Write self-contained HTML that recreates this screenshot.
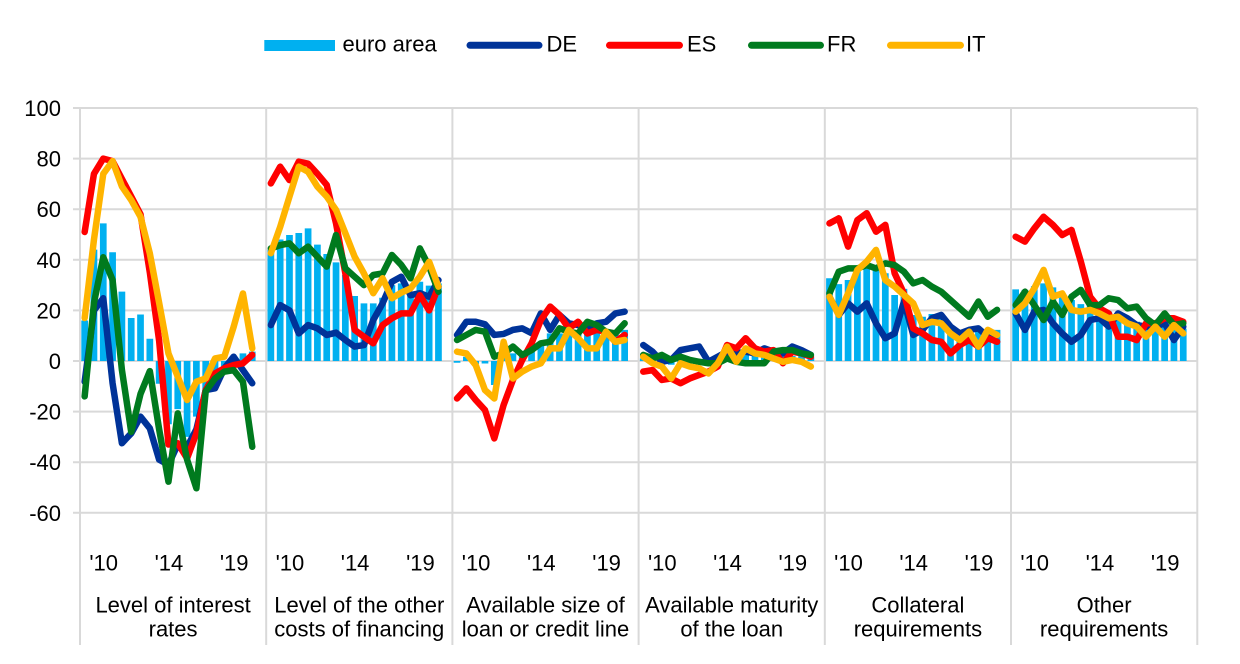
<!DOCTYPE html>
<html>
<head>
<meta charset="utf-8">
<style>
html,body{margin:0;padding:0;background:#fff;}
svg{display:block;}
text{font-family:"Liberation Sans",Arial,sans-serif;font-size:22px;fill:#000;}
.ln{fill:none;stroke-width:6.5;stroke-linejoin:round;stroke-linecap:round;vector-effect:non-scaling-stroke;}
.de{stroke:#003399;}
.es{stroke:#FF0000;}
.fr{stroke:#007A1E;}
.it{stroke:#FFB400;}
.ea{fill:#00B0F0;}
.grid{stroke:#D9D9D9;stroke-width:2;}
</style>
</head>
<body>
<svg width="1240" height="664" viewBox="0 0 1240 664" xmlns="http://www.w3.org/2000/svg">
<rect x="0" y="0" width="1240" height="664" fill="#fff"/>

<g class="grid">
<line x1="73" y1="108" x2="1197.3" y2="108"/>
<line x1="73" y1="158.6" x2="1197.3" y2="158.6"/>
<line x1="73" y1="209.2" x2="1197.3" y2="209.2"/>
<line x1="73" y1="259.8" x2="1197.3" y2="259.8"/>
<line x1="73" y1="310.4" x2="1197.3" y2="310.4"/>
<line x1="73" y1="361" x2="1197.3" y2="361"/>
<line x1="73" y1="411.6" x2="1197.3" y2="411.6"/>
<line x1="73" y1="462.2" x2="1197.3" y2="462.2"/>
<line x1="73" y1="512.8" x2="1197.3" y2="512.8"/>
<line x1="80" y1="108" x2="80" y2="645"/>
<line x1="266.2" y1="108" x2="266.2" y2="645"/>
<line x1="452.4" y1="108" x2="452.4" y2="645"/>
<line x1="638.6" y1="108" x2="638.6" y2="645"/>
<line x1="824.8" y1="108" x2="824.8" y2="645"/>
<line x1="1011" y1="108" x2="1011" y2="645"/>
<line x1="1197.3" y1="108" x2="1197.3" y2="645"/>
</g>

<g text-anchor="end">
<text x="61" y="116">100</text>
<text x="61" y="166.6">80</text>
<text x="61" y="217.2">60</text>
<text x="61" y="267.8">40</text>
<text x="61" y="318.4">20</text>
<text x="61" y="369">0</text>
<text x="61" y="419.6">-20</text>
<text x="61" y="470.2">-40</text>
<text x="61" y="520.8">-60</text>
</g>

<!-- Panel 1 -->
<g transform="translate(80,361) scale(9.311,-2.53)">
<path class="ea" d="M.14 0h.72v16h-.72z M1.14 0h.72v44h-.72z M2.14 0h.72v54.4h-.72z M3.14 0h.72v43h-.72z M4.14 0h.72v27.4h-.72z M5.14 0h.72v17h-.72z M6.14 0h.72v18.4h-.72z M7.14 0h.72v8.8h-.72z M8.14 0h.72v-9h-.72z M9.14 0h.72v-25h-.72z M10.14 0h.72v-19h-.72z M11.14 0h.72v-30h-.72z M12.14 0h.72v-22h-.72z M13.14 0h.72v-12h-.72z M14.14 0h.72v-8h-.72z M15.14 0h.72v-5h-.72z M16.14 0h.72v1.5h-.72z M17.14 0h.72v3h-.72z M18.14 0h.72v3.7h-.72z"/>
<polyline class="ln de" points="0.5,-8.2 1.5,20 2.5,24.8 3.5,-8.8 4.5,-32.5 5.5,-28.6 6.5,-22 7.5,-26.6 8.5,-39 9.5,-41 10.5,-33 11.5,-34 12.5,-27 13.5,-11.5 14.5,-10.8 15.5,-2.9 16.5,1.7 17.5,-3.6 18.5,-8.8"/>
<polyline class="ln es" points="0.5,51 1.5,74 2.5,80 3.5,79 4.5,72 5.5,65 6.5,58 7.5,35 8.5,8 9.5,-33 10.5,-32.5 11.5,-38.5 12.5,-28.6 13.5,-11.5 14.5,-4.9 15.5,-2.9 16.5,-1.6 17.5,-0.9 18.5,2.4"/>
<polyline class="ln fr" points="0.5,-14 1.5,23 2.5,41 3.5,32 4.5,-3.5 5.5,-28 6.5,-13 7.5,-4 8.5,-27 9.5,-47.7 10.5,-20.7 11.5,-39 12.5,-50.3 13.5,-12 14.5,-6.9 15.5,-4.2 16.5,-3.6 17.5,-8.2 18.5,-33.9"/>
<polyline class="ln it" points="0.5,17 1.5,48 2.5,74 3.5,79 4.5,69 5.5,63.6 6.5,57 7.5,42.5 8.5,23 9.5,3 10.5,-6.2 11.5,-15.4 12.5,-8.2 13.5,-6.9 14.5,1 15.5,1.7 16.5,13.5 17.5,26.7 18.5,5"/>
</g>

<!-- Panel 2 -->
<g transform="translate(266.2,361) scale(9.311,-2.53)">
<path class="ea" d="M.14 0h.72v44h-.72z M1.14 0h.72v48h-.72z M2.14 0h.72v49.8h-.72z M3.14 0h.72v50.6h-.72z M4.14 0h.72v52.4h-.72z M5.14 0h.72v46h-.72z M6.14 0h.72v42.3h-.72z M7.14 0h.72v39h-.72z M8.14 0h.72v34h-.72z M9.14 0h.72v25.7h-.72z M10.14 0h.72v22.8h-.72z M11.14 0h.72v22.8h-.72z M12.14 0h.72v25h-.72z M13.14 0h.72v30h-.72z M14.14 0h.72v30.7h-.72z M15.14 0h.72v27h-.72z M16.14 0h.72v31.3h-.72z M17.14 0h.72v29.8h-.72z M18.14 0h.72v30.7h-.72z"/>
<polyline class="ln de" points="0.5,14.2 1.5,22.1 2.5,20 3.5,10.9 4.5,14.2 5.5,12.9 6.5,10.3 7.5,11.2 8.5,8.3 9.5,5.7 10.5,6.3 11.5,16.2 12.5,22.8 13.5,31.3 14.5,33.3 15.5,26 16.5,26.8 17.5,25.4 18.5,32"/>
<polyline class="ln es" points="0.5,70.2 1.5,76.8 2.5,71.5 3.5,78.8 4.5,78 5.5,74 6.5,69.6 7.5,54.4 8.5,34.6 9.5,12.3 10.5,9.6 11.5,7 12.5,14.2 13.5,16.9 14.5,18.8 15.5,18.8 16.5,26 17.5,20 18.5,29.4"/>
<polyline class="ln fr" points="0.5,44.5 1.5,45.8 2.5,46.5 3.5,42.6 4.5,45.2 5.5,41.2 6.5,37.3 7.5,49.8 8.5,36.6 9.5,33.3 10.5,30 11.5,34 12.5,34.6 13.5,41.9 14.5,38 15.5,32.7 16.5,44.5 17.5,37.3 18.5,27.4"/>
<polyline class="ln it" points="0.5,42.6 1.5,53 2.5,65 3.5,76.8 4.5,74.8 5.5,68.9 6.5,65 7.5,59.7 8.5,50.5 9.5,41.2 10.5,34.6 11.5,26.8 12.5,32.7 13.5,24.8 14.5,27 15.5,28.7 16.5,33.3 17.5,39.2 18.5,29.4"/>
</g>

<!-- Panel 3 -->
<g transform="translate(452.4,361) scale(9.311,-2.53)">
<path class="ea" d="M.14 0h.72v-0.7h-.72z M1.14 0h.72v1.7h-.72z M2.14 0h.72v-1.2h-.72z M3.14 0h.72v-1h-.72z M4.14 0h.72v-9.5h-.72z M5.14 0h.72v2.4h-.72z M6.14 0h.72v3h-.72z M7.14 0h.72v2.4h-.72z M8.14 0h.72v5.7h-.72z M9.14 0h.72v7h-.72z M10.14 0h.72v10.9h-.72z M11.14 0h.72v10.9h-.72z M12.14 0h.72v13.6h-.72z M13.14 0h.72v10.9h-.72z M14.14 0h.72v10.9h-.72z M15.14 0h.72v11.6h-.72z M16.14 0h.72v9.6h-.72z M17.14 0h.72v11.6h-.72z M18.14 0h.72v12.3h-.72z"/>
<polyline class="ln de" points="0.5,10.3 1.5,15.5 2.5,15.5 3.5,14.5 4.5,10.3 5.5,10.7 6.5,12.3 7.5,12.9 8.5,11 9.5,18.8 10.5,12.3 11.5,18.2 12.5,14.9 13.5,14.2 14.5,12.3 15.5,14.9 16.5,15.5 17.5,18.8 18.5,19.5"/>
<polyline class="ln es" points="0.5,-14.8 1.5,-10.8 2.5,-15.4 3.5,-19.4 4.5,-30.6 5.5,-17.4 6.5,-7.5 7.5,0.4 8.5,7 9.5,16.2 10.5,21.5 11.5,18.2 12.5,12.9 13.5,15.5 14.5,10.9 15.5,12.3 16.5,11.6 17.5,7.6 18.5,10.3"/>
<polyline class="ln fr" points="0.5,8.3 1.5,10.3 2.5,12.3 3.5,11.6 4.5,1.7 5.5,3 6.5,5.7 7.5,2.4 8.5,4.3 9.5,7 10.5,7.6 11.5,12.9 12.5,11.6 13.5,10.9 14.5,15.5 15.5,14.2 16.5,11.6 17.5,10.9 18.5,14.9"/>
<polyline class="ln it" points="0.5,3.7 1.5,3 2.5,-1.6 3.5,-11.5 4.5,-14.8 5.5,7.6 6.5,-6.9 7.5,-4.2 8.5,-2.2 9.5,-0.9 10.5,5 11.5,5 12.5,12.3 13.5,9 14.5,5 15.5,5 16.5,11.6 17.5,7.6 18.5,8.3"/>
</g>

<!-- Panel 4 -->
<g transform="translate(638.6,361) scale(9.311,-2.53)">
<path class="ea" d="M.14 0h.72v1h-.72z M1.14 0h.72v1.5h-.72z M2.14 0h.72v-1h-.72z M3.14 0h.72v-1.5h-.72z M4.14 0h.72v-2h-.72z M5.14 0h.72v-1h-.72z M6.14 0h.72v0.5h-.72z M7.14 0h.72v1h-.72z M8.14 0h.72v1h-.72z M9.14 0h.72v2h-.72z M10.14 0h.72v2h-.72z M11.14 0h.72v3h-.72z M12.14 0h.72v2h-.72z M13.14 0h.72v2h-.72z M14.14 0h.72v2h-.72z M15.14 0h.72v2h-.72z M16.14 0h.72v2h-.72z M17.14 0h.72v2h-.72z M18.14 0h.72v1.5h-.72z"/>
<polyline class="ln de" points="0.5,6.3 1.5,3.7 2.5,-0.3 3.5,0.4 4.5,4.3 5.5,5 6.5,5.7 7.5,-0.3 8.5,1.7 9.5,3.7 10.5,3 11.5,3.7 12.5,3 13.5,5 14.5,3.7 15.5,3 16.5,5.7 17.5,4.3 18.5,2.4"/>
<polyline class="ln es" points="0.5,-4.2 1.5,-3.6 2.5,-7.5 3.5,-6.9 4.5,-8.8 5.5,-6.9 6.5,-5.5 7.5,-4.2 8.5,-2.2 9.5,6.3 10.5,5 11.5,9 12.5,5 13.5,3.7 14.5,4.3 15.5,-0.9 16.5,3.7 17.5,3 18.5,1.7"/>
<polyline class="ln fr" points="0.5,2.4 1.5,1 2.5,2.4 3.5,0.4 4.5,1.7 5.5,0.4 6.5,-0.3 7.5,-0.9 8.5,-0.9 9.5,1 10.5,-0.3 11.5,-0.9 12.5,-0.9 13.5,-0.9 14.5,3.7 15.5,4.3 16.5,4.3 17.5,3 18.5,2.4"/>
<polyline class="ln it" points="0.5,1.7 1.5,-0.9 2.5,-2.2 3.5,-6.9 4.5,-0.9 5.5,-2.2 6.5,-2.9 7.5,-4.9 8.5,-0.9 9.5,5.7 10.5,-0.3 11.5,5 12.5,3 13.5,2.4 14.5,1 15.5,-0.3 16.5,0.4 17.5,-0.3 18.5,-2.2"/>
</g>

<!-- Panel 5 -->
<g transform="translate(824.8,361) scale(9.311,-2.53)">
<path class="ea" d="M.14 0h.72v32.7h-.72z M1.14 0h.72v30.4h-.72z M2.14 0h.72v32h-.72z M3.14 0h.72v36.6h-.72z M4.14 0h.72v37.3h-.72z M5.14 0h.72v36.6h-.72z M6.14 0h.72v34.7h-.72z M7.14 0h.72v26.1h-.72z M8.14 0h.72v28.5h-.72z M9.14 0h.72v18.2h-.72z M10.14 0h.72v17.5h-.72z M11.14 0h.72v18.6h-.72z M12.14 0h.72v17.5h-.72z M13.14 0h.72v12.9h-.72z M14.14 0h.72v12.3h-.72z M15.14 0h.72v12.9h-.72z M16.14 0h.72v12.3h-.72z M17.14 0h.72v12.3h-.72z M18.14 0h.72v12.3h-.72z"/>
<polyline class="ln de" points="0.5,25.4 1.5,18.2 2.5,22.8 3.5,19.5 4.5,22.8 5.5,14.9 6.5,9 7.5,10.9 8.5,23.5 9.5,10.3 10.5,12.3 11.5,16.9 12.5,18.2 13.5,13.6 14.5,10.9 15.5,12.3 16.5,12.9 17.5,9.6 18.5,7.6"/>
<polyline class="ln es" points="0.5,54.4 1.5,56.4 2.5,45.2 3.5,55.7 4.5,58.4 5.5,51.1 6.5,53.8 7.5,34.7 8.5,26.7 9.5,12.9 10.5,10.9 11.5,8.3 12.5,7.6 13.5,3 14.5,6.3 15.5,8.3 16.5,5.7 17.5,9 18.5,7.6"/>
<polyline class="ln fr" points="0.5,26.7 1.5,35.3 2.5,36.6 3.5,36.6 4.5,37.9 5.5,36.6 6.5,38.6 7.5,37.9 8.5,35.3 9.5,30.7 10.5,32 11.5,29.4 12.5,27.4 13.5,24.1 14.5,20.8 15.5,17.5 16.5,23.5 17.5,17.5 18.5,20.2"/>
<polyline class="ln it" points="0.5,25.4 1.5,18.2 2.5,26.7 3.5,36 4.5,39.3 5.5,43.9 6.5,32 7.5,29.4 8.5,26.1 9.5,22.8 10.5,14.2 11.5,15.5 12.5,14.9 13.5,10.9 14.5,8.3 15.5,11.6 16.5,5.7 17.5,12.3 18.5,10.3"/>
</g>

<!-- Panel 6 -->
<g transform="translate(1011,361) scale(9.311,-2.53)">
<path class="ea" d="M.14 0h.72v28.3h-.72z M1.14 0h.72v28.1h-.72z M2.14 0h.72v29.6h-.72z M3.14 0h.72v30.7h-.72z M4.14 0h.72v29.1h-.72z M5.14 0h.72v26.7h-.72z M6.14 0h.72v24.1h-.72z M7.14 0h.72v22.5h-.72z M8.14 0h.72v22.1h-.72z M9.14 0h.72v20.2h-.72z M10.14 0h.72v19.5h-.72z M11.14 0h.72v18h-.72z M12.14 0h.72v16.5h-.72z M13.14 0h.72v15.5h-.72z M14.14 0h.72v14.5h-.72z M15.14 0h.72v14h-.72z M16.14 0h.72v13.5h-.72z M17.14 0h.72v13.5h-.72z M18.14 0h.72v12.8h-.72z"/>
<polyline class="ln de" points="0.5,18.8 1.5,12.3 2.5,19.5 3.5,20.2 4.5,14.9 5.5,10.9 6.5,7.6 7.5,10.3 8.5,16.2 9.5,16.9 10.5,13.6 11.5,18.8 12.5,16.9 13.5,14.2 14.5,13.6 15.5,13.6 16.5,14.9 17.5,8.3 18.5,13.6"/>
<polyline class="ln es" points="0.5,49.1 1.5,47.2 2.5,52.4 3.5,57 4.5,53.8 5.5,49.8 6.5,51.8 7.5,39.3 8.5,25.4 9.5,20.8 10.5,18.8 11.5,9.6 12.5,9.6 13.5,8.3 14.5,14.9 15.5,14.9 16.5,16.9 17.5,16.9 18.5,15.5"/>
<polyline class="ln fr" points="0.5,22.1 1.5,27.4 2.5,22.1 3.5,16.2 4.5,23.5 5.5,18.2 6.5,25.4 7.5,28.1 8.5,22.1 9.5,22.1 10.5,24.8 11.5,24.1 12.5,20.8 13.5,21.5 14.5,16.9 15.5,14.2 16.5,18.8 17.5,14.2 18.5,14.9"/>
<polyline class="ln it" points="0.5,19.5 1.5,22.8 2.5,28.7 3.5,36 4.5,25.4 5.5,26.7 6.5,20.2 7.5,19.5 8.5,20.2 9.5,18.8 10.5,16.9 11.5,17.5 12.5,14.9 13.5,13.6 14.5,9.6 15.5,13.6 16.5,9.6 17.5,14.2 18.5,10.9"/>
</g>

<g text-anchor="middle">
<text x="103.7" y="570.7">'10</text><text x="168.9" y="570.7">'14</text><text x="234.2" y="570.7">'19</text>
<text x="289.9" y="570.7">'10</text><text x="355.1" y="570.7">'14</text><text x="420.4" y="570.7">'19</text>
<text x="476.1" y="570.7">'10</text><text x="541.3" y="570.7">'14</text><text x="606.6" y="570.7">'19</text>
<text x="662.3" y="570.7">'10</text><text x="727.5" y="570.7">'14</text><text x="792.8" y="570.7">'19</text>
<text x="848.5" y="570.7">'10</text><text x="913.7" y="570.7">'14</text><text x="979" y="570.7">'19</text>
<text x="1034.7" y="570.7">'10</text><text x="1099.9" y="570.7">'14</text><text x="1165.2" y="570.7">'19</text>
</g>

<g text-anchor="middle">
<text x="173.1" y="612.7">Level of interest</text><text x="173.1" y="636.7">rates</text>
<text x="359.3" y="612.7">Level of the other</text><text x="359.3" y="636.7">costs of financing</text>
<text x="545.5" y="612.7">Available size of</text><text x="545.5" y="636.7">loan or credit line</text>
<text x="731.7" y="612.7">Available maturity</text><text x="731.7" y="636.7">of the loan</text>
<text x="917.9" y="612.7">Collateral</text><text x="917.9" y="636.7">requirements</text>
<text x="1104.1" y="612.7">Other</text><text x="1104.1" y="636.7">requirements</text>
</g>

<rect x="264.3" y="40" width="70.7" height="11" fill="#00B0F0"/>
<text x="342.5" y="51.7">euro area</text>
<line x1="470" y1="45.3" x2="539" y2="45.3" stroke="#003399" stroke-width="7" stroke-linecap="round"/>
<text x="546.5" y="51.7">DE</text>
<line x1="609.5" y1="45.3" x2="679.5" y2="45.3" stroke="#FF0000" stroke-width="7" stroke-linecap="round"/>
<text x="687" y="51.7">ES</text>
<line x1="751.5" y1="45.3" x2="820.5" y2="45.3" stroke="#007A1E" stroke-width="7" stroke-linecap="round"/>
<text x="827" y="51.7">FR</text>
<line x1="890.5" y1="45.3" x2="960.5" y2="45.3" stroke="#FFB400" stroke-width="7" stroke-linecap="round"/>
<text x="966" y="51.7">IT</text>
</svg>
</body>
</html>
